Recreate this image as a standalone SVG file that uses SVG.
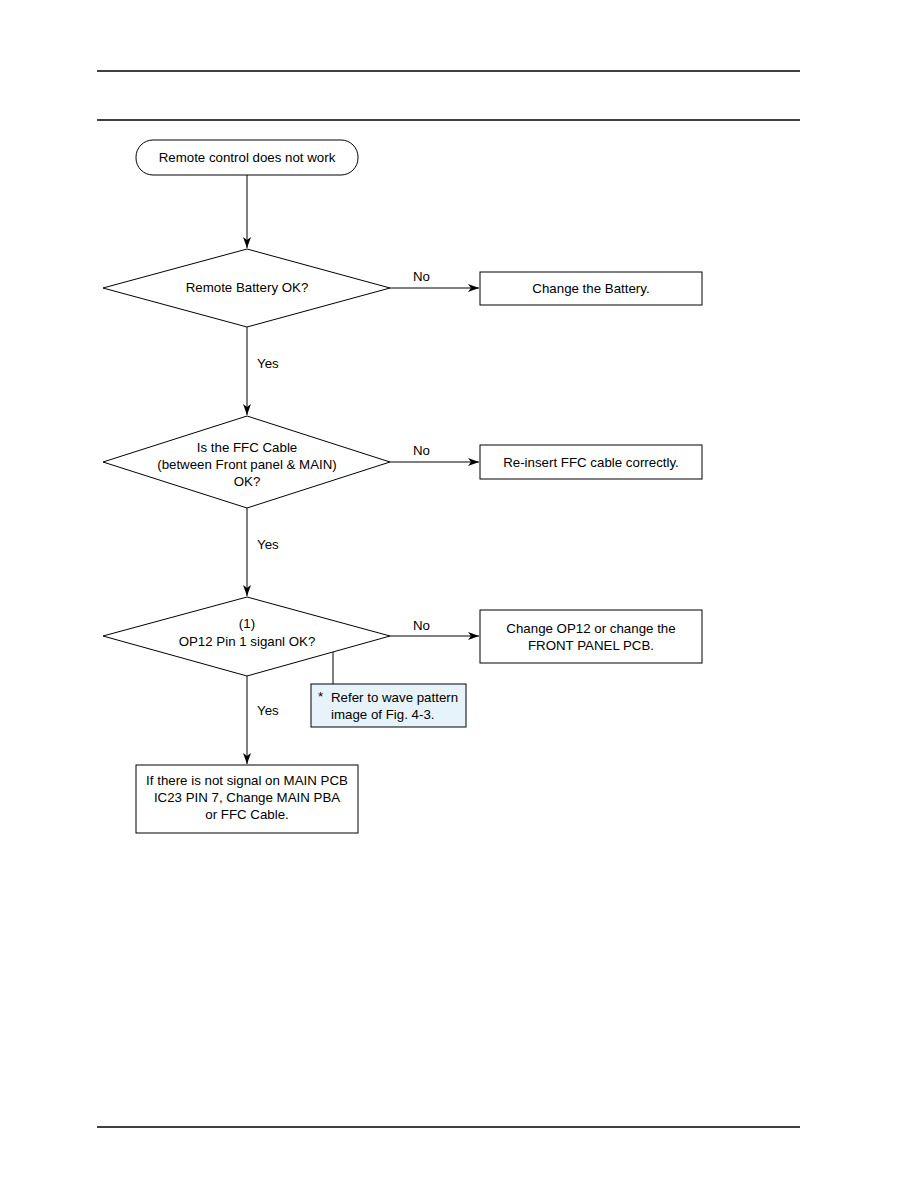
<svg xmlns="http://www.w3.org/2000/svg" width="918" height="1188" viewBox="0 0 918 1188">
<style>
.s{fill:#fff;stroke:#000;stroke-width:1}
.t{font-family:"Liberation Sans",Arial,sans-serif;font-size:13.3px;fill:#000;text-anchor:middle}
.l{font-family:"Liberation Sans",Arial,sans-serif;font-size:13.3px;fill:#000}
.c{stroke:#000;stroke-width:1;fill:none}
.r{stroke:#000;stroke-width:1.3}
</style>
<defs>
<marker id="a" markerWidth="12" markerHeight="8" refX="11" refY="4" orient="auto" markerUnits="userSpaceOnUse">
<path d="M0,0 L11,4 L0,8 L3,4 Z" fill="#000"/>
</marker>
</defs>
<rect width="918" height="1188" fill="#fff"/>
<g id="rules">
<line class="r" x1="97" y1="71" x2="800" y2="71"/>
<line class="r" x1="97" y1="120" x2="800" y2="120"/>
<line class="r" x1="97" y1="1127" x2="800" y2="1127"/>
</g>
<g id="connectors">
<line class="c" x1="247" y1="175" x2="247" y2="248" marker-end="url(#a)"/>
<line class="c" x1="390" y1="288" x2="479" y2="288" marker-end="url(#a)"/>
<line class="c" x1="247" y1="327" x2="247" y2="415" marker-end="url(#a)"/>
<line class="c" x1="390" y1="462" x2="479" y2="462" marker-end="url(#a)"/>
<line class="c" x1="247" y1="508" x2="247" y2="596" marker-end="url(#a)"/>
<line class="c" x1="390" y1="636" x2="479" y2="636" marker-end="url(#a)"/>
<line class="c" x1="247" y1="676" x2="247" y2="764" marker-end="url(#a)"/>
<line class="c" x1="333" y1="652" x2="333" y2="684"/>
<text class="l" x="413" y="281">No</text>
<text class="l" x="413" y="455">No</text>
<text class="l" x="413" y="630">No</text>
<text class="l" x="257" y="368">Yes</text>
<text class="l" x="257" y="549">Yes</text>
<text class="l" x="257" y="715">Yes</text>
</g>
<g id="start">
<rect class="s" x="136" y="140" width="222" height="35" rx="17" ry="17"/>
<text class="t" x="247" y="162">Remote control does not work</text>
</g>
<g id="d1">
<polygon class="s" points="247,249 390,288 247,327 103,288"/>
<text class="t" x="247" y="292">Remote Battery OK?</text>
</g>
<g id="b1">
<rect class="s" x="480" y="272" width="222" height="33"/>
<text class="t" x="591" y="293">Change the Battery.</text>
</g>
<g id="d2">
<polygon class="s" points="247,416 390,462 247,508 103,462"/>
<text class="t" x="247" y="452">Is the FFC Cable</text>
<text class="t" x="247" y="469">(between Front panel &amp; MAIN)</text>
<text class="t" x="247" y="486">OK?</text>
</g>
<g id="b2">
<rect class="s" x="480" y="445" width="222" height="34"/>
<text class="t" x="591" y="467">Re-insert FFC cable correctly.</text>
</g>
<g id="d3">
<polygon class="s" points="247,597 390,636 247,676 103,636"/>
<text class="t" x="247" y="628">(1)</text>
<text class="t" x="247" y="646">OP12 Pin 1 siganl OK?</text>
</g>
<g id="b3">
<rect class="s" x="480" y="610" width="222" height="53"/>
<text class="t" x="591" y="633">Change OP12 or change the</text>
<text class="t" x="591" y="650">FRONT PANEL PCB.</text>
</g>
<g id="note">
<rect x="311" y="684" width="155" height="43" fill="#e6f3fa" stroke="#000" stroke-width="1"/>
<text class="l" x="318" y="701">*</text>
<text class="l" x="331" y="702">Refer to wave pattern</text>
<text class="l" x="331" y="719">image of Fig. 4-3.</text>
</g>
<g id="b4">
<rect class="s" x="136" y="765" width="222" height="68"/>
<text class="t" x="247" y="785">If there is not signal on MAIN PCB</text>
<text class="t" x="247" y="802">IC23 PIN 7, Change MAIN PBA</text>
<text class="t" x="247" y="819">or FFC Cable.</text>
</g>
</svg>
